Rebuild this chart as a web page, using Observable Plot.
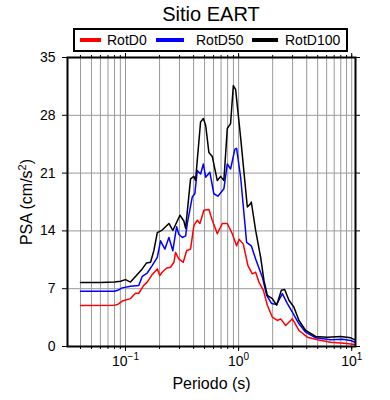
<!DOCTYPE html>
<html><head><meta charset="utf-8">
<script src="https://cdn.jsdelivr.net/npm/d3@7"></script>
<script src="https://cdn.jsdelivr.net/npm/@observablehq/plot@0.6"></script>
<style>
body{margin:0;background:#fff;font-family:"Liberation Sans",Arial,sans-serif;}
#wrap{position:relative;width:390px;height:400px;overflow:hidden;}
#title{position:absolute;left:67px;width:288px;top:2px;text-align:center;font-size:20px;line-height:24px;color:#000;}
#legend{position:absolute;left:73px;top:28px;width:271px;height:20px;border:2px solid #000;font-size:14px;}
.item{position:absolute;top:0;height:20px;display:flex;align-items:center;}
.sw{display:inline-block;height:4px;}
#chart{position:absolute;left:0;top:52px;}
#chart svg{overflow:visible;}
</style>
</head><body>
<div id="wrap">
  <div id="title"></div>
  <div id="legend"></div>
  <div id="chart"></div>
</div>
<script>
const title = "Sitio EART";
const seriesNames = ["RotD0", "RotD50", "RotD100"];
const seriesColors = ["#ff0000", "#0000ff", "#000000"];

const periodD0 = [0.04,0.08,0.0855,0.0935,0.1107,0.1226,0.131,0.145,0.1556,0.172,0.191,0.201,0.211,0.231,0.25,0.268,0.277,0.296,0.324,0.347,0.376,0.402,0.431,0.455,0.493,0.546,0.585,0.648,0.717,0.794,0.879,0.96,1.01,1.10,1.209,1.322,1.414,1.513,1.655,1.795,1.987,2.199,2.353,2.606,2.986,3.417,4.054,4.97,6.51,8.55,10.7];
const psaD0 = [4.96,5.0,5.1,5.5,5.8,6.45,6.45,7.4,7.8,8.7,9.4,8.6,9.0,9.5,9.6,10.2,11.4,10.6,10.2,11.6,11.8,14.65,15.3,14.9,16.5,16.6,15.3,13.65,14.9,14.9,13.65,12.2,13.0,12.4,9.8,8.8,9.0,7.8,6.8,5.0,3.55,3.15,3.35,2.54,3.35,1.94,1.13,0.81,0.52,0.4,0.24];

const periodD50 = [0.04,0.08,0.0855,0.0935,0.1107,0.131,0.1406,0.1556,0.172,0.191,0.204,0.223,0.242,0.262,0.283,0.296,0.318,0.34,0.352,0.389,0.41,0.431,0.461,0.488,0.511,0.557,0.604,0.656,0.741,0.794,0.849,0.927,0.96,1.042,1.177,1.295,1.414,1.621,1.77,1.959,2.169,2.436,2.698,2.986,3.417,3.917,4.8,6.51,8.27,9.8,10.7];
const psaD50 = [6.7,6.7,6.8,7.1,7.3,7.4,8.5,8.9,9.8,10.8,12.8,11.8,13.2,11.6,14.5,13.6,13.2,13.4,14.9,18.1,18.5,21.3,20.9,22.1,20.5,21.1,18.5,18.2,19.1,22.1,21.5,23.9,24.0,20.5,12.6,12.2,10.6,8.4,6.2,5.2,5.1,6.4,5.2,4.15,2.75,1.73,1.05,0.81,0.88,0.73,0.52];

const periodD100 = [0.04,0.06,0.08,0.0903,0.1,0.1107,0.1406,0.153,0.1665,0.178,0.191,0.211,0.242,0.262,0.303,0.328,0.34,0.376,0.402,0.416,0.461,0.488,0.511,0.546,0.585,0.648,0.693,0.741,0.794,0.849,0.898,0.941,1.042,1.194,1.277,1.295,1.414,1.566,1.675,1.795,1.987,2.169,2.387,2.553,2.787,3.085,3.417,3.917,4.8,6.09,7.99,9.8,10.7];
const psaD100 = [7.75,7.75,7.8,7.9,8.1,7.8,9.4,10.1,10.2,11.6,13.8,14.1,14.9,14.05,15.9,15.2,14.3,20.3,20.6,20.1,27.2,27.6,26.8,23.5,23.0,20.1,20.6,20.1,26.4,27.0,31.6,31.1,25.3,16.9,17.3,17.5,14.05,10.8,8.0,6.2,5.8,5.0,6.8,6.9,5.6,4.76,3.15,1.94,1.21,1.13,1.21,1.05,0.81];

const yTicks = [0, 7, 14, 21, 28, 35];
const xMajorTicks = [0.1, 1, 10];
const xTickExponents = ["\u22121", "0", "1"];
const xMinorTicks = [0.04,0.05,0.06,0.07,0.08,0.09,0.1,0.2,0.3,0.4,0.5,0.6,0.7,0.8,0.9,1,2,3,4,5,6,7,8,9,10];
const xLabel = "Periodo (s)";
const yLabel = "PSA (cm/s²)";

document.getElementById("title").textContent = title;

// legend
const legendPos = [{sw:5, w:21, tx:32}, {sw:81, w:28, tx:121}, {sw:177, w:26, tx:210}];
const leg = document.getElementById("legend");
seriesNames.forEach((n, i) => {
  const s = document.createElement("div");
  s.className = "item"; s.style.left = legendPos[i].sw + "px";
  s.innerHTML = `<span class="sw" style="width:${legendPos[i].w}px;background:${seriesColors[i]}"></span>`;
  leg.appendChild(s);
  const t = document.createElement("div");
  t.className = "item"; t.style.left = legendPos[i].tx + "px";
  t.textContent = n;
  leg.appendChild(t);
});

const toRows = (p, v, s) => p.map((d, i) => ({period: d, psa: v[i], series: s}));
const rows = [
  ...toRows(periodD0, psaD0, seriesNames[0]),
  ...toRows(periodD50, psaD50, seriesNames[1]),
  ...toRows(periodD100, psaD100, seriesNames[2])
];

const fmtX = d => {
  const i = xMajorTicks.findIndex(t => Math.abs(t - d) < 1e-9);
  return i < 0 ? "" : "10^" + xTickExponents[i];
};

const chart = Plot.plot({
  width: 390, height: 348,
  marginTop: 5, marginBottom: 54, marginLeft: 67, marginRight: 35,
  style: {fontFamily: "Liberation Sans, Arial, sans-serif", fontSize: "14px", background: "transparent", color: "#000", overflow: "visible"},
  x: {type: "log", domain: [0.0307, 10.8]},
  y: {domain: [0, 35]},
  color: {domain: seriesNames, range: seriesColors},
  marks: [
    Plot.gridX(xMinorTicks, {stroke: "#999", strokeOpacity: 1, strokeWidth: 1}),
    Plot.gridY(yTicks.slice(1, -1), {stroke: "#999", strokeOpacity: 1, strokeWidth: 1}),
    Plot.line(rows, {x: "period", y: "psa", z: "series", stroke: "series", strokeWidth: 1.5}),
    Plot.frame({stroke: "#000", strokeWidth: 2}),
    Plot.axisX(xMinorTicks, {anchor: "bottom", tickSize: 3, tickFormat: () => "", label: null}),
    Plot.axisX(xMinorTicks, {anchor: "top", tickSize: 3, tickFormat: () => "", label: null}),
    Plot.axisX(xMajorTicks, {anchor: "top", tickSize: 5, tickFormat: () => "", label: null}),
    Plot.axisX(xMajorTicks, {anchor: "bottom", tickSize: 5, tickPadding: 5, tickFormat: fmtX, fontSize: 14, label: null}),
    Plot.axisX(xMajorTicks, {anchor: "bottom", tickSize: 0, tickFormat: () => "", fontSize: 16,
      label: xLabel, labelAnchor: "center", labelArrow: "none", labelOffset: 42}),
    Plot.axisY(yTicks, {anchor: "left", tickSize: 5, tickPadding: 7, fontSize: 14, label: null}),
    Plot.axisY(yTicks, {anchor: "left", tickSize: 0, tickFormat: () => "", fontSize: 16,
      label: yLabel, labelAnchor: "center", labelArrow: "none", labelOffset: 47}),
    Plot.axisY(yTicks, {anchor: "right", tickSize: 4, tickFormat: () => "", label: null})
  ]
});

// render exponents / superscripts as raised tspans
chart.querySelectorAll("text").forEach(t => {
  const s = t.textContent;
  if (s.startsWith("10^")) {
    const e = s.slice(3);
    t.textContent = "";
    const a = document.createElementNS("http://www.w3.org/2000/svg", "tspan");
    a.textContent = "10";
    const b = document.createElementNS("http://www.w3.org/2000/svg", "tspan");
    b.textContent = e; b.setAttribute("dy", "-6"); b.setAttribute("font-size", "10");
    t.appendChild(a); t.appendChild(b);
  } else if (s === yLabel) {
    t.textContent = "";
    const parts = [["PSA (cm/s", null, null], ["2", "-6", "11"], [")", "6", null]];
    parts.forEach(([txt, dy, fs]) => {
      const sp = document.createElementNS("http://www.w3.org/2000/svg", "tspan");
      sp.textContent = txt;
      if (dy) sp.setAttribute("dy", dy);
      if (fs) sp.setAttribute("font-size", fs);
      t.appendChild(sp);
    });
  }
});
document.getElementById("chart").appendChild(chart);
</script>
</body></html>
